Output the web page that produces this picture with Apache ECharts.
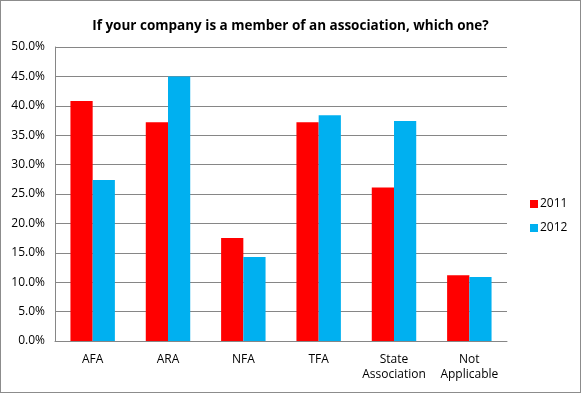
<!DOCTYPE html>
<html><head><meta charset="utf-8">
<script src="https://cdn.jsdelivr.net/npm/echarts@6/dist/echarts.min.js"></script>
<style>html,body{margin:0;padding:0;background:#fff}#c{width:581px;height:393px;box-sizing:border-box;border:1px solid #8c8c8c}</style>
</head><body><div id="c"></div>
<script>
const categories = ['AFA', 'ARA', 'NFA', 'TFA', 'State\nAssociation', 'Not\nApplicable'];
const values2011 = [40.8, 37.2, 17.5, 37.2, 26.1, 11.2];
const values2012 = [27.4, 45.0, 14.3, 38.4, 37.4, 10.9];
const seriesNames = ['2011', '2012'];
const yTicks = [0, 5, 10, 15, 20, 25, 30, 35, 40, 45, 50];

const font = 'Open Sans, Liberation Sans, sans-serif';
const chart = echarts.init(document.getElementById('c'));
chart.setOption({
  animation: false,
  title: {
    text: 'If your company is a member of an association, which one?',
    left: 'center', top: 13,
    textStyle: {fontFamily: font, fontSize: 13.5, fontWeight: 'bold', color: '#000'}
  },
  legend: {
    orient: 'vertical', left: 524, top: 192, itemWidth: 8, itemHeight: 8, itemGap: 12,
    icon: 'rect',
    textStyle: {fontFamily: font, fontSize: 12, color: '#000', padding: [0, 0, 0, -3]},
    data: seriesNames
  },
  grid: {left: 54, right: 73, top: 46, bottom: 51, containLabel: false},
  xAxis: {
    type: 'category', data: categories,
    axisLine: {lineStyle: {color: '#868686'}},
    axisTick: {show: false},
    axisLabel: {fontFamily: font, fontSize: 12, color: '#000', margin: 11, lineHeight: 15, interval: 0}
  },
  yAxis: {
    type: 'value', min: yTicks[0], max: yTicks[yTicks.length - 1], interval: 5,
    axisLine: {show: true, lineStyle: {color: '#868686'}},
    axisTick: {show: false},
    splitLine: {lineStyle: {color: '#868686'}},
    axisLabel: {fontFamily: font, fontSize: 12, color: '#000', margin: 10,
      formatter: v => v.toFixed(1) + '%'}
  },
  series: [
    {name: seriesNames[0], type: 'bar', data: values2011, itemStyle: {color: '#ff0000'},
     barGap: '0%', barCategoryGap: '41%'},
    {name: seriesNames[1], type: 'bar', data: values2012, itemStyle: {color: '#00b0f0'},
     barGap: '0%', barCategoryGap: '41%'}
  ]
});
</script></body></html>
